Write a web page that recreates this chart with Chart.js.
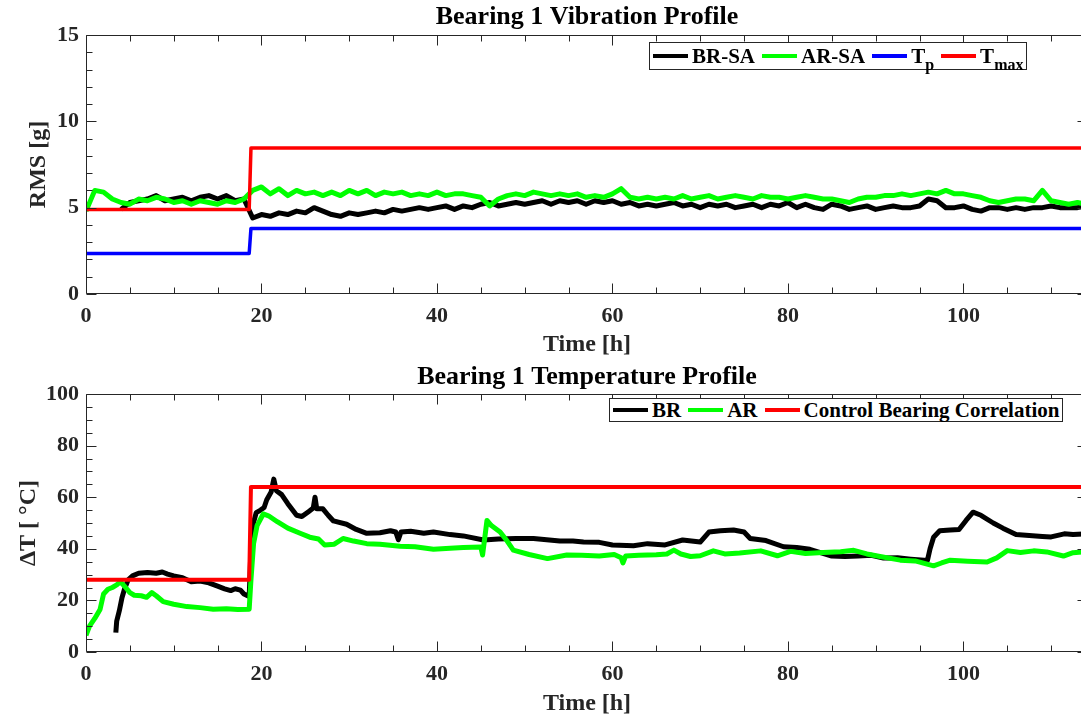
<!DOCTYPE html>
<html>
<head>
<meta charset="utf-8">
<script src="https://cdn.jsdelivr.net/npm/chart.js@4.4.1/dist/chart.umd.min.js"></script>
<style>
  body { margin: 0; background: #fff; width: 1081px; height: 719px; overflow: hidden; position: relative; }
  canvas { position: absolute; left: 0; }
  .legend {
    position: absolute; background: #fff; border: 1px solid #262626;
    display: flex; align-items: center; padding: 0 3px; box-sizing: border-box;
    font: bold 21px "Liberation Serif", serif; color: #000; white-space: nowrap;
  }
  .legend .item { display: flex; align-items: center; margin-right: 7px; }
  .legend .item:last-child { margin-right: 0; }
  .legend .swatch { width: 35px; height: 4px; margin-right: 4px; }
  .legend sub { font-size: 16px; vertical-align: -7px; line-height: 0; }
</style>
</head>
<body>
<canvas id="vib" width="1088" height="360" style="top:0"></canvas>
<canvas id="temp" width="1088" height="359" style="top:360px"></canvas>
<div class="legend" id="vibLegend" style="left:649px;top:42px;height:28px"></div>
<div class="legend" id="tempLegend" style="left:609px;top:398px;height:24px"></div>
<script>
// ---- data ----
// vibration RMS [g], one reading per hour starting at 0 h
const brSa = [
  null, null, null, null, 4.9, 5.3, 5.4, 5.5, 5.7, 5.4,
  5.5, 5.6, 5.4, 5.6, 5.7, 5.5, 5.7, 5.4, 5.5, 4.4,
  4.6, 4.5, 4.7, 4.6, 4.8, 4.7, 5.0, 4.8, 4.6, 4.5,
  4.7, 4.6, 4.7, 4.8, 4.7, 4.9, 4.8, 4.9, 5.0, 4.9,
  5.0, 5.1, 4.9, 5.1, 5.0, 5.2, 5.3, 5.1, 5.2, 5.3,
  5.2, 5.3, 5.4, 5.2, 5.4, 5.3, 5.4, 5.2, 5.4, 5.3,
  5.4, 5.2, 5.3, 5.1, 5.2, 5.1, 5.2, 5.3, 5.1, 5.2,
  5.0, 5.2, 5.1, 5.2, 5.0, 5.1, 5.2, 5.0, 5.2, 5.1,
  5.3, 5.0, 5.2, 5.0, 4.9, 5.2, 5.1, 4.9, 5.0, 5.1,
  4.9, 5.0, 5.1, 5.0, 5.0, 5.1, 5.5, 5.4, 5.0, 5.0,
  5.1, 4.9, 4.8, 5.0, 5.0, 4.9, 5.0, 4.9, 5.0, 5.0,
  5.1, 5.0, 5.0, 5.0, 5.1
];
const arSa = [
  4.8, 6.0, 5.9, 5.5, 5.3, 5.2, 5.5, 5.4, 5.6, 5.5,
  5.3, 5.4, 5.2, 5.4, 5.3, 5.2, 5.4, 5.3, 5.5, 6.0,
  6.2, 5.8, 6.1, 5.7, 6.0, 5.8, 5.9, 5.7, 5.9, 5.7,
  6.0, 5.8, 6.0, 5.7, 5.9, 5.8, 5.9, 5.7, 5.8, 5.7,
  5.9, 5.7, 5.8, 5.8, 5.7, 5.6, 5.1, 5.5, 5.7, 5.8,
  5.7, 5.9, 5.8, 5.7, 5.8, 5.7, 5.8, 5.6, 5.7, 5.6,
  5.8, 6.1, 5.6, 5.5, 5.6, 5.5, 5.6, 5.5, 5.7, 5.5,
  5.6, 5.7, 5.5, 5.6, 5.7, 5.6, 5.5, 5.7, 5.6, 5.6,
  5.5, 5.6, 5.7, 5.6, 5.5, 5.5, 5.4, 5.3, 5.5, 5.6,
  5.6, 5.7, 5.7, 5.8, 5.7, 5.8, 5.9, 5.8, 6.0, 5.8,
  5.8, 5.7, 5.6, 5.4, 5.3, 5.4, 5.5, 5.5, 5.4, 6.0,
  5.4, 5.3, 5.2, 5.3, 5.2
];
const stepHours = [0, 18.6, 18.8, 114.2];
const tpValues = [2.35, 2.35, 3.8, 3.8];
const tmaxValues = [4.9, 4.9, 8.45, 8.45];

// temperature rise [°C] as [hour, value]
const brTemp = [
  [3.4, 7.5], [3.5, 12], [3.8, 16], [4.1, 21], [4.4, 24.5], [4.8, 28], [5.3, 29.5], [6, 30.5], [7, 30.8], [8, 30.5],
  [8.7, 31], [9.3, 30.2], [10, 29.5], [11, 28.8], [11.5, 28], [12, 27.2], [13, 27.5], [14, 26.8], [15, 25.5], [15.8, 24.5],
  [16.5, 23.8], [17, 24.5], [17.6, 24], [18, 22.5], [18.6, 21.5], [18.8, 40], [19, 49], [19.4, 54], [19.9, 55], [20.3, 56],
  [20.6, 59], [21.1, 62], [21.4, 67], [21.7, 62.5], [22.3, 61], [23, 57.5], [24, 53], [24.6, 52.5], [25.4, 54.5], [25.9, 55.8],
  [26.1, 60], [26.3, 55.5], [27, 55.5], [27.6, 53], [28.2, 50.8], [29.7, 49.5], [30.8, 47.5], [32, 46], [33.5, 46.2], [34.7, 47],
  [35.3, 46.5], [35.6, 43.5], [35.9, 46.5], [37, 46.8], [38.5, 46], [39.6, 46.5], [41.5, 45.5], [43, 45], [45.3, 43.4], [47, 43.8],
  [49, 44], [51, 44], [52.5, 43.5], [54, 43], [55.5, 43], [56.7, 42.6], [58.5, 42.5], [60, 41.5], [62.4, 41.2], [64, 42],
  [66, 41.5], [68, 43.4], [70, 42.6], [71, 46.5], [72.3, 47], [73.8, 47.3], [75, 46.5], [75.7, 44], [77.5, 43.2], [79.5, 40.8],
  [81, 40.5], [82.5, 39.8], [85, 37.2], [86.5, 37], [88, 37.2], [89.5, 37.5], [90.9, 36.4], [92.5, 36.5], [94, 36], [95.9, 35.5],
  [96.2, 40], [96.6, 44.5], [97.3, 47], [98.5, 47.3], [99.5, 47.5], [100.3, 51], [101.1, 54.2], [102, 53], [103.4, 50], [104.5, 48],
  [106, 45.5], [107.5, 45.2], [109, 44.8], [110, 44.6], [111.5, 45.8], [112.5, 45.5], [114.2, 45.8]
];
const arTemp = [
  [0, 6.5], [0.4, 10], [1, 13], [1.6, 16.5], [2, 22.5], [2.5, 24.3], [3, 25], [3.5, 26], [3.9, 27.2], [4.4, 25.5],
  [5, 23], [5.5, 22], [6.3, 21.8], [6.9, 21.2], [7.5, 23], [8, 21.8], [8.8, 19.5], [10, 18.5], [11.5, 17.6], [13, 17.2],
  [14.5, 16.6], [16, 16.8], [17.3, 16.5], [18.6, 16.6], [18.8, 28], [19.1, 42], [19.5, 49], [20.2, 53.5], [20.8, 52.8], [21.8, 50.5],
  [23, 48], [24.4, 46], [25.5, 44.5], [26.5, 43.8], [27.2, 41.5], [28.3, 41.8], [29.3, 44], [30.5, 43], [32, 42], [33.5, 41.8],
  [35.8, 41], [37.5, 40.8], [39.6, 39.8], [41.5, 40.2], [43, 40.5], [45, 40.7], [45.2, 37.6], [45.7, 51], [46.2, 49], [47.2, 46.5],
  [48, 43], [48.7, 39.5], [50.5, 37.8], [52.6, 36.2], [54.8, 37.6], [56.5, 37.5], [58.5, 37.2], [60.2, 37.8], [61, 36.5], [61.2, 34.5],
  [61.5, 37.2], [63, 37.5], [65, 37.7], [66.2, 38], [67, 39.5], [67.8, 38], [68.9, 37], [70, 37.3], [71.5, 39.2], [72.8, 38],
  [74.5, 38.4], [76.9, 39.2], [78.8, 37.3], [80.3, 39], [82, 38.2], [84, 38.6], [86, 38.9], [87.5, 39.4], [89, 38], [90.5, 37],
  [92.8, 35.6], [94.5, 35.3], [96.6, 33.4], [97.5, 34.5], [98.5, 35.6], [100.5, 35.2], [102.7, 34.9], [103.8, 36.5], [105, 39.3], [106.5, 38.6],
  [108, 39.2], [109.5, 38.8], [111.4, 37.2], [112.5, 38.5], [114.2, 39]
];
const corrValues = [28, 28, 64, 64];

const vibLabels = ['BR-SA', 'AR-SA', 'T<sub>p</sub>', 'T<sub>max</sub>'];
const tempLabels = ['BR', 'AR', 'Control Bearing Correlation'];
const hourTickStep = 20;

// ---- helpers ----
const FONT = '"Liberation Serif", "Times New Roman", serif';
const AXIS = '#262626';

const hourly = (arr) => arr.map((v, i) => ({ x: i, y: v }));
const pairs = (arr) => arr.map(([x, y]) => ({ x, y }));
const steps = (vals) => stepHours.map((x, i) => ({ x, y: vals[i] }));

// MATLAB style box with inward major/minor ticks on all four sides
const boxTicks = {
  id: 'boxTicks',
  afterDatasetsDraw(chart, args, opts) {
    const { ctx, chartArea: a, scales: { x, y } } = chart;
    const L = Math.round(a.left) + 0.5, R = Math.round(a.right) - 0.5;
    const T = Math.round(a.top) + 0.5, B = Math.round(a.bottom) - 0.5;
    ctx.save();
    ctx.strokeStyle = AXIS;
    ctx.lineWidth = 1;
    ctx.beginPath();
    ctx.moveTo(L, T); ctx.lineTo(R, T); ctx.lineTo(R, B); ctx.lineTo(L, B); ctx.closePath();
    for (let v = x.min; v <= x.max + 1e-9; v += opts.xMinor) {
      const px = Math.round(x.getPixelForValue(v)) + 0.5;
      const len = Math.abs(v % opts.xMajor) < 1e-9 ? 10 : 6;
      ctx.moveTo(px, B); ctx.lineTo(px, B - len);
      ctx.moveTo(px, T); ctx.lineTo(px, T + len);
    }
    for (let v = y.min; v <= y.max + 1e-9; v += opts.yMinor) {
      const py = Math.round(y.getPixelForValue(v)) + 0.5;
      const len = Math.abs(v % opts.yMajor) < 1e-9 ? 10 : 6;
      ctx.moveTo(L, py); ctx.lineTo(L + len, py);
      ctx.moveTo(R, py); ctx.lineTo(R - len, py);
    }
    ctx.stroke();
    ctx.restore();
  }
};

function lineSet(label, data, color, width, order) {
  return {
    label, data, order,
    borderColor: color, backgroundColor: color,
    borderWidth: width, pointRadius: 0, tension: 0, spanGaps: false,
    borderJoinStyle: 'round', borderCapStyle: 'butt'
  };
}

function makeOptions(title, yTitle, yMax, yStep, yTitlePad, xAxisHeight, titlePad, tickOpts) {
  return {
    responsive: false,
    animation: false,
    devicePixelRatio: 1,
    parsing: false,
    layout: { padding: 0 },
    plugins: {
      legend: { display: false },
      tooltip: { enabled: false },
      title: {
        display: true, text: title, fullSize: false, color: '#000',
        font: { family: FONT, size: 26, weight: 'bold', lineHeight: 1.1 },
        padding: titlePad
      },
      boxTicks: tickOpts
    },
    scales: {
      x: {
        type: 'linear', min: 0, max: 114.2,
        afterFit: (s) => { s.height = xAxisHeight; },
        grid: { display: false, drawTicks: false },
        border: { display: false },
        ticks: {
          stepSize: hourTickStep, includeBounds: false, padding: 9,
          maxRotation: 0, autoSkip: false, color: AXIS,
          font: { family: FONT, size: 22, weight: 'bold', lineHeight: 1.2 }
        },
        title: {
          display: true, text: 'Time [h]', color: AXIS,
          font: { family: FONT, size: 24, weight: 'bold', lineHeight: 1.2 },
          padding: { top: 0, bottom: 1 }
        }
      },
      y: {
        type: 'linear', min: 0, max: yMax,
        afterFit: (s) => { s.width = 86; },
        grid: { display: false, drawTicks: false },
        border: { display: false },
        ticks: {
          stepSize: yStep, includeBounds: false, padding: 7, color: AXIS,
          font: { family: FONT, size: 22, weight: 'bold', lineHeight: 1.2 }
        },
        title: {
          display: true, text: yTitle, color: AXIS,
          font: { family: FONT, size: 24, weight: 'bold', lineHeight: 1.2 },
          padding: { top: yTitlePad, bottom: 0 }
        }
      }
    }
  };
}

function buildLegend(el, chart) {
  chart.data.datasets.forEach((ds) => {
    const item = document.createElement('span');
    item.className = 'item';
    const sw = document.createElement('span');
    sw.className = 'swatch';
    sw.style.background = ds.borderColor;
    const txt = document.createElement('span');
    txt.innerHTML = ds.label;
    item.appendChild(sw);
    item.appendChild(txt);
    el.appendChild(item);
  });
}

// ---- vibration chart ----
const vibChart = new Chart(document.getElementById('vib'), {
  type: 'line',
  data: {
    datasets: [
      lineSet(vibLabels[0], hourly(brSa), '#000000', 5, 4),
      lineSet(vibLabels[1], hourly(arSa), '#00ff00', 5, 3),
      lineSet(vibLabels[2], steps(tpValues), '#0000ff', 3.5, 2),
      lineSet(vibLabels[3], steps(tmaxValues), '#ff0000', 3.5, 1)
    ]
  },
  options: makeOptions('Bearing 1 Vibration Profile', 'RMS [g]', 15, 5, 24, 66,
    { top: 3, bottom: 3.4 }, { xMinor: 5, xMajor: 20, yMinor: 1, yMajor: 5 }),
  plugins: [boxTicks]
});
buildLegend(document.getElementById('vibLegend'), vibChart);

// ---- temperature chart ----
const tempChart = new Chart(document.getElementById('temp'), {
  type: 'line',
  data: {
    datasets: [
      lineSet(tempLabels[0], pairs(brTemp), '#000000', 5, 3),
      lineSet(tempLabels[1], pairs(arTemp), '#00ff00', 5, 2),
      lineSet(tempLabels[2], steps(corrValues), '#ff0000', 4, 1)
    ]
  },
  options: makeOptions('Bearing 1 Temperature Profile', 'ΔT [ °C]', 100, 20, 14, 67,
    { top: 3, bottom: 2.4 }, { xMinor: 5, xMajor: 20, yMinor: 5, yMajor: 20 }),
  plugins: [boxTicks]
});
buildLegend(document.getElementById('tempLegend'), tempChart);
</script>
</body>
</html>
